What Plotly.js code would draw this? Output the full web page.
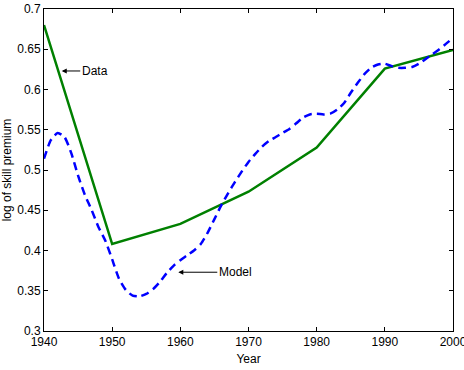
<!DOCTYPE html>
<html>
<head>
<meta charset="utf-8">
<script src="https://cdn.plot.ly/plotly-3.0.1.min.js"></script>
<style>
  html, body { margin: 0; padding: 0; background: #fff; }
  #chart { width: 464px; height: 370px; }
</style>
</head>
<body>
<div id="chart"></div>
<script>
// Observed skill premium by census decade
const dataYears = [1940, 1950, 1960, 1970, 1980, 1990, 2000];
const dataValues = [0.680, 0.408, 0.433, 0.473, 0.528, 0.626, 0.649];

// Model-implied skill premium, annual
const modelYears = [
  1940, 1941, 1942, 1943, 1944, 1945, 1946, 1947, 1948, 1949,
  1950, 1951, 1952, 1953, 1954, 1955, 1956, 1957, 1958, 1959,
  1960, 1961, 1962, 1963, 1964, 1965, 1966, 1967, 1968, 1969,
  1970, 1971, 1972, 1973, 1974, 1975, 1976, 1977, 1978, 1979,
  1980, 1981, 1982, 1983, 1984, 1985, 1986, 1987, 1988, 1989,
  1990, 1991, 1992, 1993, 1994, 1995, 1996, 1997, 1998, 1999, 2000
];
const modelValues = [
  0.514, 0.537, 0.546, 0.541, 0.521, 0.493, 0.469, 0.450, 0.429, 0.412,
  0.389, 0.365, 0.351, 0.344, 0.343, 0.346, 0.352, 0.361, 0.372, 0.381,
  0.388, 0.394, 0.400, 0.408, 0.422, 0.439, 0.456, 0.471, 0.485, 0.498,
  0.510, 0.520, 0.529, 0.536, 0.541, 0.546, 0.551, 0.558, 0.565, 0.569,
  0.570, 0.569, 0.570, 0.575, 0.583, 0.596, 0.608, 0.619, 0.627, 0.631,
  0.632, 0.629, 0.627, 0.627, 0.628, 0.632, 0.638, 0.644, 0.650, 0.657, 0.664
];

const font = { family: 'Liberation Sans, Arial, Helvetica, sans-serif', size: 12, color: '#000' };

const traces = [
  {
    x: dataYears, y: dataValues, type: 'scatter', mode: 'lines', name: 'Data',
    line: { color: '#008000', width: 2.5 }
  },
  {
    x: modelYears, y: modelValues, type: 'scatter', mode: 'lines', name: 'Model',
    line: { color: '#0000ff', width: 2.5, dash: '8px,5px', shape: 'spline', smoothing: 0.6 }
  }
];

const axisCommon = {
  showgrid: false, zeroline: false, showline: true, linecolor: '#000', linewidth: 1,
  mirror: 'ticks', ticks: 'inside', ticklen: 4, tickcolor: '#000', tickwidth: 1,
  tickfont: font, ticklabeloverflow: 'allow'
};

const layout = {
  width: 464, height: 370,
  margin: { l: 44, r: 11, t: 9, b: 39 },
  paper_bgcolor: '#fff', plot_bgcolor: '#fff',
  showlegend: false,
  font: font,
  xaxis: Object.assign({}, axisCommon, {
    range: [1940, 2000], dtick: 10, tick0: 1940,
    title: { text: 'Year', font: font, standoff: 6 }
  }),
  yaxis: Object.assign({}, axisCommon, {
    range: [0.3, 0.7], dtick: 0.05, tick0: 0.3,
    title: { text: 'log of skill premium', font: font, standoff: 3 }
  }),
  annotations: [
    {
      x: 1942.6, y: 0.623, xref: 'x', yref: 'y', text: 'Data',
      showarrow: true, arrowhead: 2, arrowsize: 1, arrowwidth: 1, arrowcolor: '#000',
      ax: 33, ay: 0, standoff: 0, font: font
    },
    {
      x: 1959.7, y: 0.373, xref: 'x', yref: 'y', text: 'Model',
      showarrow: true, arrowhead: 2, arrowsize: 1, arrowwidth: 1, arrowcolor: '#000',
      ax: 57, ay: 0, standoff: 0, font: font
    }
  ]
};

Plotly.newPlot('chart', traces, layout, { staticPlot: true, displayModeBar: false });
</script>
</body>
</html>
